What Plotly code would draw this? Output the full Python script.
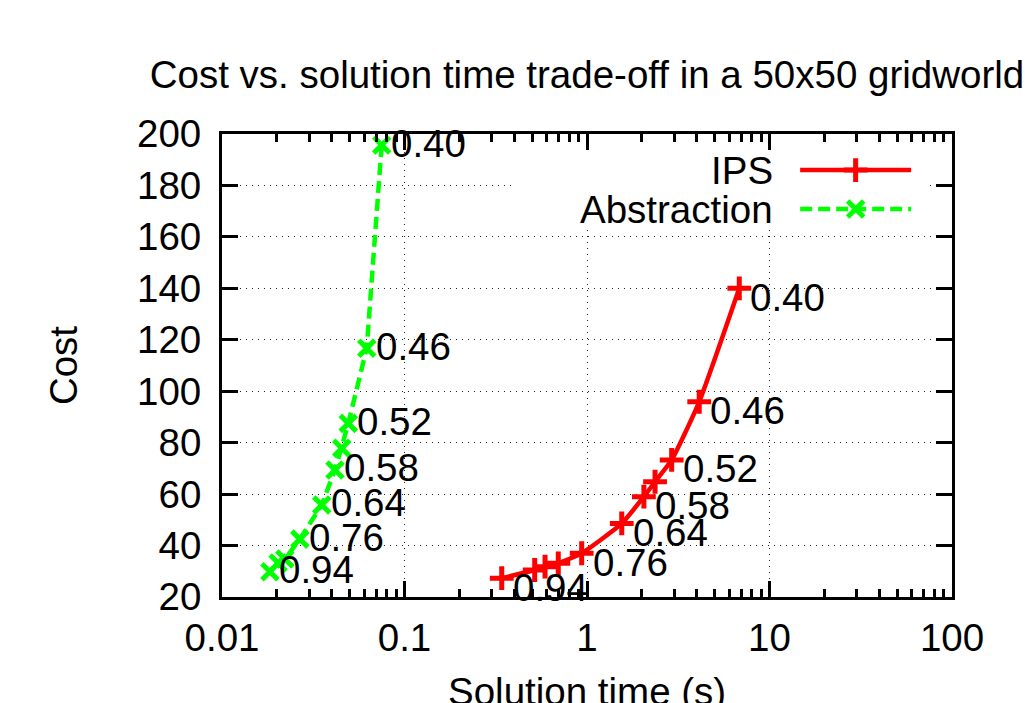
import numpy as np
import plotly.graph_objects as go

# ---- data ----
ips_time = [6.83, 4.12, 2.91, 2.36, 2.05, 1.55, 0.935, 0.696, 0.589, 0.517, 0.341]
ips_cost = [140.0, 95.9, 73.3, 64.8, 59.0, 48.6, 37.0, 33.1, 31.8, 30.5, 27.3]
ips_labels = ["0.40", "0.46", "0.52", "", "0.58", "0.64", "0.76", "", "", "", "0.94"]

abs_time = [0.0750, 0.0621, 0.0492, 0.0453, 0.0416, 0.0352, 0.0267, 0.0221, 0.0203, 0.0183]
abs_cost = [195.7, 116.7, 87.5, 77.8, 69.4, 55.8, 42.5, 34.8, 33.2, 29.8]
abs_labels = ["0.40", "0.46", "0.52", "", "0.58", "0.64", "0.76", "", "", "0.94"]

x_tickvals = [0.01, 0.1, 1, 10, 100]
x_ticktext = ["0.01", "0.1", "1", "10", "100"]
y_tickvals = [20, 40, 60, 80, 100, 120, 140, 160, 180, 200]

TITLE = "Cost vs. solution time trade-off in a 50x50 gridworld"
XTITLE = "Solution time (s)"
YTITLE = "Cost"
SERIES_NAMES = ["IPS", "Abstraction"]

RED = "#ff0000"
GREEN = "#00ff00"
FONT = "Liberation Sans, Arial, Helvetica, sans-serif"
FS = 38.5

fig = go.Figure()

fig.add_trace(go.Scatter(
    x=ips_time, y=ips_cost, mode="lines+markers", name=SERIES_NAMES[0],
    line=dict(color=RED, width=4.5, shape="spline", smoothing=0.5),
    marker=dict(symbol="cross-thin", size=17, line=dict(color=RED, width=5), color=RED),
    showlegend=False,
))
fig.add_trace(go.Scatter(
    x=abs_time, y=abs_cost, mode="lines+markers", name=SERIES_NAMES[1],
    line=dict(color=GREEN, width=4.5, dash="12px,6px"),
    marker=dict(symbol="x-thin", size=16, line=dict(color=GREEN, width=5), color=GREEN),
    showlegend=False,
))

annotations = []
for t, c, lab in zip(ips_time, ips_cost, ips_labels):
    if lab:
        annotations.append(dict(x=np.log10(t), y=c, xref="x", yref="y", text=lab,
                                showarrow=False, xanchor="left", yanchor="middle",
                                xshift=9, yshift=-9,
                                font=dict(family=FONT, size=FS, color="black")))
for t, c, lab in zip(abs_time, abs_cost, abs_labels):
    if lab:
        annotations.append(dict(x=np.log10(t), y=c, xref="x", yref="y", text=lab,
                                showarrow=False, xanchor="left", yanchor="middle",
                                xshift=7, yshift=2,
                                font=dict(family=FONT, size=FS, color="black")))

# x-axis title, placed low as in the reference (partly below the page edge)
annotations.append(dict(x=0.5, y=-0.205, xref="x domain", yref="y domain", text=XTITLE,
                        showarrow=False, xanchor="center", yanchor="middle",
                        font=dict(family=FONT, size=FS, color="black")))

# ---- legend drawn gnuplot-style (text left of sample) ----
LEG_Y = [0.922, 0.838]
LEG_TEXT_X = 0.757
LEG_LINE_X = [0.792, 0.944]
LEG_MARK_X = 0.868
LEG_BOX_X = [0.401, 0.967, 0.967, 0.401, 0.401]
LEG_BOX_Y = [0.797, 0.797, 1.0, 1.0, 0.797]
for name, ly in zip(SERIES_NAMES, LEG_Y):
    annotations.append(dict(x=LEG_TEXT_X, y=ly, xref="x domain", yref="y domain", text=name,
                            showarrow=False, xanchor="right", yanchor="middle",
                            font=dict(family=FONT, size=FS, color="black")))

fig.add_trace(go.Scatter(x=LEG_BOX_X, y=LEG_BOX_Y, xaxis="x2", yaxis="y2", mode="lines",
                         fill="toself", fillcolor="white", line=dict(width=0, color="white"),
                         showlegend=False, hoverinfo="skip"))
fig.add_trace(go.Scatter(x=LEG_LINE_X, y=[LEG_Y[0]] * 2, xaxis="x2", yaxis="y2", mode="lines",
                         line=dict(color=RED, width=4.5), showlegend=False, hoverinfo="skip"))
fig.add_trace(go.Scatter(x=[LEG_MARK_X], y=[LEG_Y[0]], xaxis="x2", yaxis="y2", mode="markers",
                         marker=dict(symbol="cross-thin", size=17, line=dict(color=RED, width=5)),
                         showlegend=False, hoverinfo="skip"))
fig.add_trace(go.Scatter(x=LEG_LINE_X, y=[LEG_Y[1]] * 2, xaxis="x2", yaxis="y2", mode="lines",
                         line=dict(color=GREEN, width=4.5, dash="12px,6px"), showlegend=False,
                         hoverinfo="skip"))
fig.add_trace(go.Scatter(x=[LEG_MARK_X], y=[LEG_Y[1]], xaxis="x2", yaxis="y2", mode="markers",
                         marker=dict(symbol="x-thin", size=16, line=dict(color=GREEN, width=5)),
                         showlegend=False, hoverinfo="skip"))

grid = dict(showgrid=True, gridcolor="#222222", gridwidth=1, griddash="1px,5px")
axis_common = dict(showline=True, linecolor="black", linewidth=3, mirror="allticks",
                   ticks="inside", ticklen=16, tickwidth=2.5, tickcolor="black", automargin=False,
                   tickfont=dict(family=FONT, size=FS, color="black"), zeroline=False, **grid)

fig.update_layout(
    width=1025, height=703,
    margin=dict(l=222, r=73, t=134, b=106),
    paper_bgcolor="white", plot_bgcolor="white",
    title=dict(text=TITLE, x=0.5, xref="paper", xanchor="center",
               y=1 - 75 / 703, yref="container", yanchor="middle",
               font=dict(family=FONT, size=FS, color="black")),
    xaxis=dict(type="log", range=[-2, 2], tickvals=x_tickvals, ticktext=x_ticktext,
               minor=dict(ticks="inside", ticklen=8, tickwidth=2.5, tickcolor="black",
                          dtick="D1", showgrid=False),
               ticklabelstandoff=5,
               **axis_common),
    yaxis=dict(range=[20, 200], tickvals=y_tickvals, ticklabelstandoff=10,
               title=dict(text=YTITLE, standoff=48, font=dict(family=FONT, size=FS, color="black")),
               **axis_common),
    xaxis2=dict(overlaying="x", range=[0, 1], visible=False, anchor="y2"),
    yaxis2=dict(overlaying="y", range=[0, 1], visible=False, anchor="x2"),
    annotations=annotations,
    showlegend=False,
)

fig.write_html("out.html")
